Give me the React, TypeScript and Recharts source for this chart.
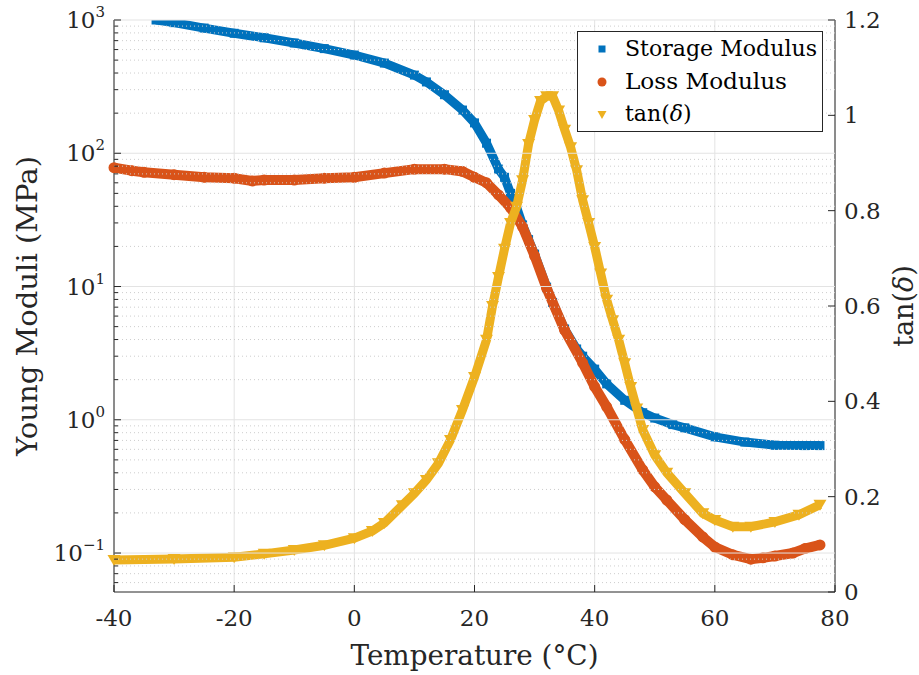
import { ComposedChart, Scatter, XAxis, YAxis, CartesianGrid, Legend } from 'recharts';

// temperatures (°C) and readings
const storageTemp = [-33, -30, -25, -20, -15, -10, -5, 0, 5, 10, 12, 15, 18, 20, 22, 24, 25, 26, 27, 28, 29, 30, 32, 33, 35, 37, 38, 40, 42, 45, 48, 50, 53, 55, 60, 65, 70, 75, 77.5];
const storageMod = [1000, 955, 870, 795, 735, 672, 610, 546, 475, 386, 343, 275, 211, 169, 119, 76, 66, 50, 39.5, 29, 22.5, 17.5, 9.9, 7.6, 4.8, 3.4, 3.0, 2.4, 1.86, 1.4, 1.13, 1.03, 0.92, 0.87, 0.745, 0.68, 0.645, 0.64, 0.64];

const lossTemp = [-40, -37, -35, -30, -25, -20, -17, -15, -10, -5, 0, 5, 10, 15, 18, 20, 22, 24, 26, 28, 30, 32, 35, 38, 40, 42, 45, 48, 50, 52, 55, 58, 60, 63, 66, 68, 70, 73, 75, 77.5];
const lossMod = [78, 74, 72, 69, 66, 65, 62, 63, 63, 65, 66, 71, 76, 76, 73, 66, 60, 48.7, 39, 28, 17, 9.7, 4.7, 2.67, 1.77, 1.25, 0.71, 0.42, 0.314, 0.25, 0.178, 0.132, 0.111, 0.097, 0.09, 0.092, 0.095, 0.1, 0.108, 0.115];

const tanTemp = [-40, -30, -20, -15, -10, -5, 0, 3, 5, 8, 10, 12, 14, 16, 18, 20, 22, 23, 24, 25, 26, 27, 28, 29, 30, 31, 32, 33, 34, 35, 36, 37, 38, 39, 40, 41, 42, 43, 44, 45, 46, 47, 48, 50, 52, 55, 58, 60, 63, 66, 70, 74, 77.5];
const tanDelta = [0.067, 0.069, 0.073, 0.08, 0.088, 0.098, 0.113, 0.128, 0.145, 0.182, 0.207, 0.235, 0.27, 0.319, 0.382, 0.451, 0.529, 0.6, 0.661, 0.72, 0.774, 0.808, 0.864, 0.94, 0.99, 1.03, 1.04, 1.04, 1.01, 0.97, 0.933, 0.885, 0.822, 0.774, 0.724, 0.668, 0.613, 0.57, 0.529, 0.48, 0.43, 0.385, 0.34, 0.287, 0.25, 0.207, 0.165, 0.151, 0.137, 0.137, 0.147, 0.162, 0.183];

const tempTicks = [-40, -20, 0, 20, 40, 60, 80];
const modMajor = [0.1, 1, 10, 100, 1000];
const modMinor = [0.06, 0.07, 0.08, 0.09, 0.2, 0.3, 0.4, 0.5, 0.6, 0.7, 0.8, 0.9, 2, 3, 4, 5, 6, 7, 8, 9, 20, 30, 40, 50, 60, 70, 80, 90, 200, 300, 400, 500, 600, 700, 800, 900];
const tanTicks = [0, 0.2, 0.4, 0.6, 0.8, 1, 1.2];

const toPoints = (ts: number[], vs: number[]) => ts.map((t, i) => ({ t, v: vs[i] }));
const storage = toPoints(storageTemp, storageMod);
const loss = toPoints(lossTemp, lossMod);
const tan = toPoints(tanTemp, tanDelta);

const BLUE = '#0072BD';
const ORANGE = '#D95319';
const YELLOW = '#EDB120';
const AXIS = '#262626';
const FONT = 'DejaVu Serif';
const PLOT_W = 721;

const Square = ({ cx, cy }: any) => <rect x={cx - 4.5} y={cy - 4.5} width={9} height={9} fill={BLUE} />;
const Dot = ({ cx, cy }: any) => <circle cx={cx} cy={cy} r={5.5} fill={ORANGE} />;
const Tri = ({ cx, cy }: any) => (
  <path d={`M${cx - 6.5},${cy - 5} L${cx + 6.5},${cy - 5} L${cx},${cy + 6} Z`} fill={YELLOW} />
);

// left log axis: draws its own grid line (solid for decades, dotted for minors) and an inward tick
const LeftTick = ({ x, y, payload }: any) => {
  const v = payload.value;
  const major = modMajor.includes(v);
  const exp = Math.round(Math.log10(v));
  return (
    <g>
      {major ? (
        <line x1={x} x2={x + PLOT_W} y1={y} y2={y} stroke="#e3e3e3" />
      ) : (
        <line x1={x} x2={x + PLOT_W} y1={y} y2={y} stroke="#cdcdcd" strokeDasharray="1 3" />
      )}
      <line x1={x} x2={x + (major ? 7 : 4)} y1={y} y2={y} stroke={AXIS} />
      {major && (
        <text x={x - 9} y={y + 8} textAnchor="end" fontFamily={FONT} fontSize={23} fill={AXIS}>
          10<tspan dy={-11} fontSize={15}>{exp < 0 ? '\u2212' + -exp : exp}</tspan>
        </text>
      )}
    </g>
  );
};

const RightTick = ({ x, y, payload }: any) => (
  <g>
    <line x1={x - 7} x2={x} y1={y} y2={y} stroke={AXIS} />
    <text x={x + 9} y={y + 8} fontFamily={FONT} fontSize={23} fill={AXIS}>{payload.value}</text>
  </g>
);

const BottomTick = ({ x, y, payload }: any) => (
  <g>
    <line x1={x} x2={x} y1={y} y2={y - 7} stroke={AXIS} />
    <text x={x} y={y + 34} textAnchor="middle" fontFamily={FONT} fontSize={23} fill={AXIS}>{payload.value}</text>
  </g>
);

const LegendBox = () => (
  <svg width={246} height={101} style={{ display: 'block' }}>
    <rect x={0.5} y={0.5} width={245} height={100} fill="#fff" stroke={AXIS} />
    <rect x={21.5} y={14.5} width={7} height={7} fill={BLUE} />
    <circle cx={25} cy={51} r={4.5} fill={ORANGE} />
    <path d="M20.5,80 L29.5,80 L25,88 Z" fill={YELLOW} />
    <text x={48} y={25} fontFamily={FONT} fontSize={22} textLength={192} lengthAdjust="spacingAndGlyphs">Storage Modulus</text>
    <text x={48} y={58} fontFamily={FONT} fontSize={22} textLength={162} lengthAdjust="spacingAndGlyphs">Loss Modulus</text>
    <text x={48} y={90} fontFamily={FONT} fontSize={22}>tan(<tspan fontStyle="italic">δ</tspan>)</text>
  </svg>
);

export default function App() {
  return (
    <div style={{ position: 'absolute', left: 0, top: 0, width: 919, height: 675, background: '#fff', fontFamily: FONT }}>
      <ComposedChart width={919} height={675} margin={{ top: 20, right: 0, bottom: 0, left: 0 }}>
        <CartesianGrid yAxisId="left" horizontal={false} stroke="#e3e3e3" />
        <XAxis
          type="number"
          dataKey="t"
          domain={[-40, 80]}
          ticks={tempTicks}
          interval={0}
          height={83}
          stroke={AXIS}
          tickLine={false}
          tickSize={0}
          tickMargin={0}
          tick={<BottomTick />}
          label={{
            content: ({ viewBox }: any) => (
              <text x={viewBox.x + viewBox.width / 2} y={665} textAnchor="middle" fontFamily={FONT} fontSize={27} fill={AXIS} textLength={248} lengthAdjust="spacingAndGlyphs">
                Temperature (°C)
              </text>
            ),
          }}
        />
        <YAxis
          yAxisId="left"
          dataKey="v"
          scale="log"
          type="number"
          domain={[0.051, 1000]}
          allowDataOverflow
          ticks={[...modMinor, ...modMajor].sort((a, b) => a - b)}
          interval={0}
          width={114}
          stroke={AXIS}
          tickLine={false}
          tickSize={0}
          tickMargin={0}
          tick={<LeftTick />}
          label={{
            content: ({ viewBox }: any) => {
              const cy = viewBox.y + viewBox.height / 2;
              return (
                <text x={37} y={cy} transform={`rotate(-90 37 ${cy})`} textAnchor="middle" fontFamily={FONT} fontSize={27} fill={AXIS} textLength={300} lengthAdjust="spacingAndGlyphs">
                  Young Moduli (MPa)
                </text>
              );
            },
          }}
        />
        <YAxis
          yAxisId="right"
          orientation="right"
          dataKey="v"
          type="number"
          domain={[0, 1.2]}
          ticks={tanTicks}
          interval={0}
          width={84}
          stroke={AXIS}
          tickLine={false}
          tickSize={0}
          tickMargin={0}
          tick={<RightTick />}
          label={{
            content: ({ viewBox }: any) => {
              const cy = viewBox.y + viewBox.height / 2;
              return (
                <text x={913} y={cy} transform={`rotate(-90 913 ${cy})`} textAnchor="middle" fontFamily={FONT} fontSize={27} fill={AXIS}>
                  tan(<tspan fontStyle="italic">δ</tspan>)
                </text>
              );
            },
          }}
        />
        <Scatter name="Storage Modulus" data={storage} yAxisId="left" fill={BLUE} shape={Square} line={{ stroke: BLUE, strokeWidth: 9 }} isAnimationActive={false} />
        <Scatter name="Loss Modulus" data={loss} yAxisId="left" fill={ORANGE} shape={Dot} line={{ stroke: ORANGE, strokeWidth: 10 }} isAnimationActive={false} />
        <Scatter name="tan(δ)" data={tan} yAxisId="right" fill={YELLOW} shape={Tri} line={{ stroke: YELLOW, strokeWidth: 9 }} isAnimationActive={false} />
        <Legend layout="vertical" align="center" verticalAlign="middle" wrapperStyle={{ left: 577, top: 31, width: 246, height: 101 }} content={<LegendBox />} />
      </ComposedChart>
    </div>
  );
}
